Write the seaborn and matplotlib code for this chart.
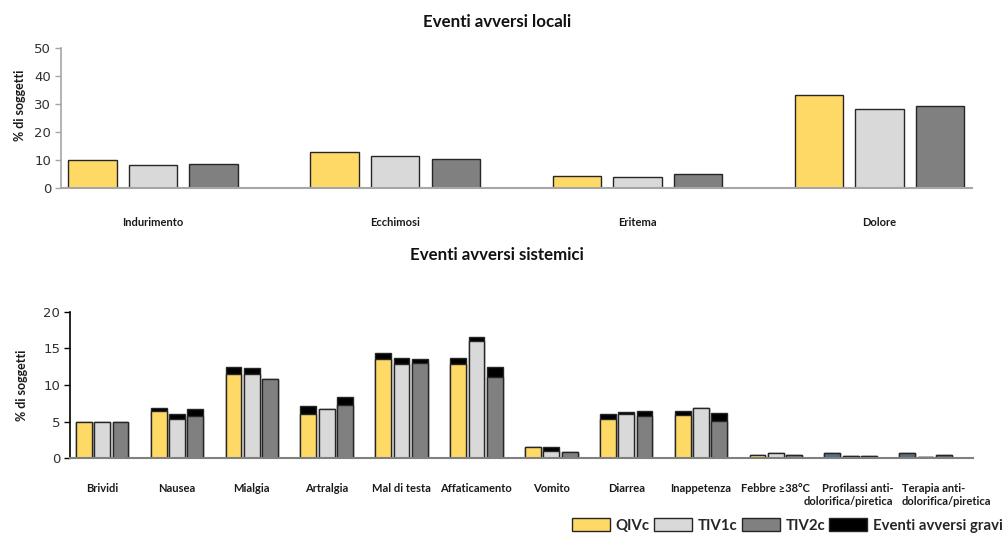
import matplotlib
matplotlib.use("Agg")
import matplotlib.pyplot as plt
from matplotlib.patches import Patch
from matplotlib.transforms import ScaledTranslation
import numpy as np
import pandas as pd
import seaborn as sns

# ---- data -------------------------------------------------------------
groups = ["QIVc", "TIV1c", "TIV2c"]

local_cats = ["Indurimento", "Ecchimosi", "Eritema", "Dolore"]
local_qivc = [10.0, 12.7, 4.1, 33.3]
local_tiv1c = [8.3, 11.6, 3.8, 28.2]
local_tiv2c = [8.7, 10.4, 5.0, 29.3]

sys_cats = ["Brividi", "Nausea", "Mialgia", "Artralgia", "Mal di testa",
            "Affaticamento", "Vomito", "Diarrea", "Inappetenza",
            "Febbre ≥38°C", "Profilassi anti-\ndolorifica/piretica",
            "Terapia anti-\ndolorifica/piretica"]
sys_qivc = [5.0, 6.4, 11.5, 6.1, 13.5, 12.9, 1.6, 5.4, 5.9, 0.4, 0.7, 0.7]
sys_qivc_severe = [0.0, 0.4, 0.9, 1.0, 0.8, 0.8, 0.0, 0.6, 0.6, 0.0, 0.0, 0.0]
sys_tiv1c = [5.0, 5.4, 11.5, 6.7, 12.9, 16.0, 1.0, 6.1, 6.9, 0.7, 0.3, 0.15]
sys_tiv1c_severe = [0.0, 0.6, 0.8, 0.0, 0.8, 0.5, 0.5, 0.2, 0.0, 0.0, 0.0, 0.0]
sys_tiv2c = [5.0, 5.8, 10.8, 7.3, 13.0, 11.1, 0.9, 5.8, 5.1, 0.4, 0.3, 0.45]
sys_tiv2c_severe = [0.0, 0.9, 0.0, 1.1, 0.6, 1.3, 0.0, 0.6, 1.1, 0.0, 0.0, 0.0]

# categories drawn in a single slate tone
slate_cats = ["Profilassi anti-\ndolorifica/piretica",
              "Terapia anti-\ndolorifica/piretica"]

colors = {"QIVc": "#FFD966", "TIV1c": "#D9D9D9", "TIV2c": "#808080"}
severe_color = "#000000"
slate_color = "#5B6D7B"

# ---- tables -----------------------------------------------------------
def long_table(cats, series):
    rows = []
    for g, vals in zip(groups, series):
        for c, v in zip(cats, vals):
            rows.append({"categoria": c, "gruppo": g, "valore": v})
    return pd.DataFrame(rows)

local_df = long_table(local_cats, [local_qivc, local_tiv1c, local_tiv2c])
sys_base = long_table(sys_cats, [sys_qivc, sys_tiv1c, sys_tiv2c])
sys_total = long_table(sys_cats, [
    list(np.add(sys_qivc, sys_qivc_severe)),
    list(np.add(sys_tiv1c, sys_tiv1c_severe)),
    list(np.add(sys_tiv2c, sys_tiv2c_severe)),
])

# ---- style ------------------------------------------------------------
sns.set_style("white")
plt.rcParams["font.family"] = ["Lato", "DejaVu Sans"]

label_font = ["Lato", "DejaVu Sans"]
tick_font = ["DejaVu Sans"]

fig = plt.figure(figsize=(10.08, 5.34), dpi=100)
ax1 = fig.add_axes([0.0605, 0.648, 0.9035, 0.262])
ax2 = fig.add_axes([0.0694, 0.1418, 0.8956, 0.2745])

bar_kw = dict(edgecolor="#262626", linewidth=1.0, legend=False, saturation=1)

# local events
sns.barplot(data=local_df, x="categoria", y="valore", hue="gruppo",
            hue_order=groups, palette=colors, width=0.75, gap=0.2,
            ax=ax1, **bar_kw)

# systemic events: totals in black, base values drawn on top
sns.barplot(data=sys_total, x="categoria", y="valore", hue="gruppo",
            hue_order=groups, palette={g: severe_color for g in groups},
            width=0.735, gap=0.14, ax=ax2, **bar_kw)
sns.barplot(data=sys_base, x="categoria", y="valore", hue="gruppo",
            hue_order=groups, palette=colors,
            width=0.735, gap=0.14, ax=ax2, **bar_kw)

for container in ax2.containers:
    for cat, bar in zip(sys_cats, container):
        if cat in slate_cats:
            bar.set_facecolor(slate_color)

# ---- axes cosmetics ---------------------------------------------------
def style_axis(ax, ymax, step, left_color, bottom_color, xlim, label_pad,
               ylabel_xy):
    ax.set_ylim(0, ymax)
    ax.set_yticks(np.arange(0, ymax + 0.1, step))
    ax.set_xlim(*xlim)
    for s in ("top", "right"):
        ax.spines[s].set_visible(False)
    ax.spines["left"].set_color(left_color)
    ax.spines["left"].set_linewidth(1.2)
    ax.spines["bottom"].set_color(bottom_color)
    ax.spines["bottom"].set_linewidth(1.5)
    ax.tick_params(axis="y", direction="out", length=4, width=1,
                   color=left_color, labelsize=9.5, labelcolor="#303030",
                   pad=3, left=True)
    ax.tick_params(axis="x", length=0, pad=label_pad)
    for t in ax.get_yticklabels():
        t.set_family(tick_font)
    for t in ax.get_xticklabels():
        t.set_family(label_font)
        t.set_fontweight("bold")
        t.set_fontsize(8)
        t.set_color("#1a1a1a")
        t.set_verticalalignment("top")
    ax.set_xlabel("")
    ax.set_ylabel("% di soggetti", fontsize=9, fontweight="bold",
                  family=label_font, color="#1a1a1a")
    ax.yaxis.set_label_coords(*ylabel_xy)
    ax.grid(False)

style_axis(ax1, 50, 10, "#A6A6A6", "#A6A6A6", (-0.38, 3.38), 21,
           (-0.038, 0.59))
style_axis(ax2, 20, 5, "#000000", "#808080", (-0.43, 11.63), 18,
           (-0.046, 0.5))

# two-line labels of the last two categories
sys_labels = ax2.get_xticklabels()
for t in sys_labels:
    t.set_linespacing(1.2)
sys_labels[10].set_multialignment("right")
sys_labels[10].set_transform(sys_labels[10].get_transform()
                             + ScaledTranslation(-0.02, 0, fig.dpi_scale_trans))
sys_labels[11].set_multialignment("left")
sys_labels[11].set_transform(sys_labels[11].get_transform()
                             + ScaledTranslation(0.21, 0, fig.dpi_scale_trans))

fig.text(0.493, 0.958, "Eventi avversi locali", ha="center", va="center",
         fontsize=12.2, fontweight="bold", family=label_font, color="#111111")
fig.text(0.493, 0.522, "Eventi avversi sistemici", ha="center", va="center",
         fontsize=12.2, fontweight="bold", family=label_font, color="#111111")

# ---- legend -----------------------------------------------------------
handles = [Patch(facecolor=colors[g], edgecolor="#262626", linewidth=1.0)
           for g in groups]
handles.append(Patch(facecolor=severe_color, edgecolor="#262626", linewidth=1.0))
labels = groups + ["Eventi avversi gravi"]
fig.legend(handles, labels, loc="lower left", bbox_to_anchor=(0.566, 0.0),
           ncol=4, frameon=False, handlelength=2.55, handleheight=1.0,
           handletextpad=0.4, columnspacing=0.28, borderpad=0.0,
           borderaxespad=0.1,
           prop={"family": "Lato", "weight": "bold", "size": 10.7})

fig.savefig("out.png", dpi=100)
